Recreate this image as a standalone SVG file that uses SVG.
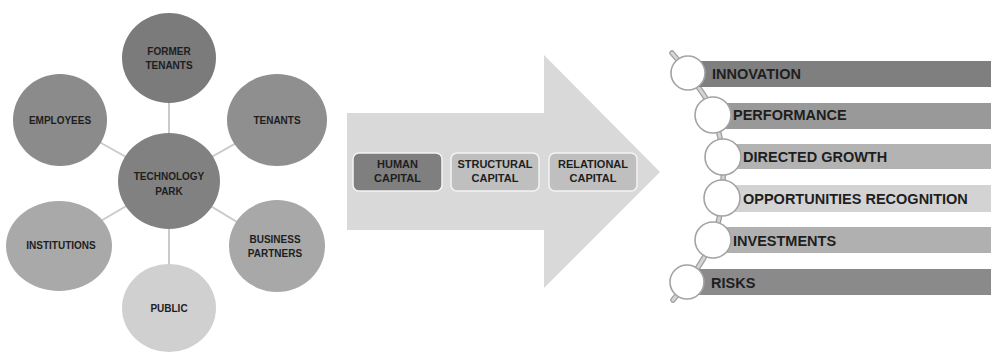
<svg xmlns="http://www.w3.org/2000/svg" width="991" height="352" viewBox="0 0 991 352">
  <style>
    .lbl { font-family: "Liberation Sans", Arial, sans-serif; font-weight: bold; fill: #1e1e1e; text-anchor: middle; }
    .node-lbl { font-size: 10px; }
    .cap-lbl { font-size: 11px; }
    .bar-lbl { font-family: "Liberation Sans", Arial, sans-serif; font-weight: bold; fill: #1e1e1e; font-size: 14.5px; }
    .spoke { stroke: #cacaca; stroke-width: 2; fill: none; }
    .capbox { stroke: #f4f4f4; stroke-width: 1.5; }
    .dot { fill: #ffffff; stroke: #a3a3a3; stroke-width: 1.6; }
  </style>

  <!-- Stakeholder network: spokes from the park to each stakeholder -->
  <g id="connectors">
    <line class="spoke" x1="169" y1="181" x2="169" y2="58"/>
    <line class="spoke" x1="169" y1="181" x2="60" y2="120"/>
    <line class="spoke" x1="169" y1="181" x2="277" y2="120"/>
    <line class="spoke" x1="169" y1="181" x2="58" y2="246"/>
    <line class="spoke" x1="169" y1="181" x2="277" y2="246"/>
    <line class="spoke" x1="169" y1="181" x2="169" y2="308"/>
  </g>

  <g id="node-former-tenants">
    <ellipse cx="169" cy="58" rx="47" ry="45" fill="#7b7b7b"/>
    <text class="lbl node-lbl" x="169" y="55">FORMER</text>
    <text class="lbl node-lbl" x="169" y="69">TENANTS</text>
  </g>
  <g id="node-employees">
    <ellipse cx="60" cy="120" rx="47" ry="46" fill="#8b8b8b"/>
    <text class="lbl node-lbl" x="60" y="124">EMPLOYEES</text>
  </g>
  <g id="node-tenants">
    <ellipse cx="277" cy="120" rx="50" ry="46" fill="#8f8f8f"/>
    <text class="lbl node-lbl" x="277" y="124">TENANTS</text>
  </g>
  <g id="node-technology-park">
    <ellipse cx="169" cy="181" rx="51" ry="48" fill="#818181"/>
    <text class="lbl node-lbl" x="169" y="180">TECHNOLOGY</text>
    <text class="lbl node-lbl" x="169" y="195">PARK</text>
  </g>
  <g id="node-institutions">
    <ellipse cx="59" cy="246" rx="53" ry="45" fill="#a9a9a9"/>
    <text class="lbl node-lbl" x="61" y="249">INSTITUTIONS</text>
  </g>
  <g id="node-business-partners">
    <ellipse cx="277" cy="246" rx="48" ry="46" fill="#a8a8a8"/>
    <text class="lbl node-lbl" x="275" y="243">BUSINESS</text>
    <text class="lbl node-lbl" x="275" y="257">PARTNERS</text>
  </g>
  <g id="node-public">
    <ellipse cx="169" cy="308" rx="47" ry="44" fill="#d0d0d0"/>
    <text class="lbl node-lbl" x="169" y="312">PUBLIC</text>
  </g>

  <!-- Big block arrow carrying the three capitals -->
  <g id="node-capital-arrow">
    <polygon points="347,113 544,113 544,55 660,172 544,288 544,230 347,230" fill="#d9d9d9"/>
  </g>
  <g id="node-human-capital">
    <rect class="capbox" x="353" y="153" width="89" height="38" rx="6" fill="#7f7f7f"/>
    <text class="lbl cap-lbl" x="397.5" y="168">HUMAN</text>
    <text class="lbl cap-lbl" x="397.5" y="182">CAPITAL</text>
  </g>
  <g id="node-structural-capital">
    <rect class="capbox" x="451" y="153" width="88" height="38" rx="6" fill="#bfbfbf"/>
    <text class="lbl cap-lbl" x="495" y="168">STRUCTURAL</text>
    <text class="lbl cap-lbl" x="495" y="182">CAPITAL</text>
  </g>
  <g id="node-relational-capital">
    <rect class="capbox" x="549" y="153" width="88" height="38" rx="6" fill="#bfbfbf"/>
    <text class="lbl cap-lbl" x="593" y="168">RELATIONAL</text>
    <text class="lbl cap-lbl" x="593" y="182">CAPITAL</text>
  </g>

  <!-- Outcome list: curved spine with a bead per item -->
  <g id="spine">
    <path d="M672,53 C680,62 684,68 688,73 C700,90 709,100 713,114 C718,128 722,142 723,157 C724,172 723,185 722,198 C721,212 718,226 713,240 C706,256 697,270 687,282 C682,289 677,295 673,300" fill="none" stroke="#9e9e9e" stroke-width="5.5" stroke-linecap="round"/>
    <path d="M672,53 C680,62 684,68 688,73 C700,90 709,100 713,114 C718,128 722,142 723,157 C724,172 723,185 722,198 C721,212 718,226 713,240 C706,256 697,270 687,282 C682,289 677,295 673,300" fill="none" stroke="#d4d4d4" stroke-width="3" stroke-linecap="round"/>
  </g>

  <g id="node-innovation">
    <rect x="690" y="61" width="301" height="26" fill="#7f7f7f"/>
    <circle class="dot" cx="688" cy="73" r="17"/>
    <text class="bar-lbl" x="712" y="79">INNOVATION</text>
  </g>
  <g id="node-performance">
    <rect x="714" y="103" width="277" height="26" fill="#999999"/>
    <circle class="dot" cx="713" cy="115" r="18"/>
    <text class="bar-lbl" x="733" y="120">PERFORMANCE</text>
  </g>
  <g id="node-directed-growth">
    <rect x="724" y="144" width="267" height="25" fill="#b3b3b3"/>
    <circle class="dot" cx="723" cy="157" r="18"/>
    <text class="bar-lbl" x="743" y="162">DIRECTED GROWTH</text>
  </g>
  <g id="node-opportunities-recognition">
    <rect x="723" y="185" width="268" height="27" fill="#d3d3d3"/>
    <circle class="dot" cx="722" cy="198" r="18"/>
    <text class="bar-lbl" x="743" y="204">OPPORTUNITIES RECOGNITION</text>
  </g>
  <g id="node-investments">
    <rect x="714" y="227" width="277" height="26" fill="#b0b0b0"/>
    <circle class="dot" cx="713" cy="240" r="18"/>
    <text class="bar-lbl" x="733" y="246">INVESTMENTS</text>
  </g>
  <g id="node-risks">
    <rect x="689" y="269" width="302" height="26" fill="#8a8a8a"/>
    <circle class="dot" cx="687" cy="282" r="17"/>
    <text class="bar-lbl" x="711" y="288">RISKS</text>
  </g>
</svg>
